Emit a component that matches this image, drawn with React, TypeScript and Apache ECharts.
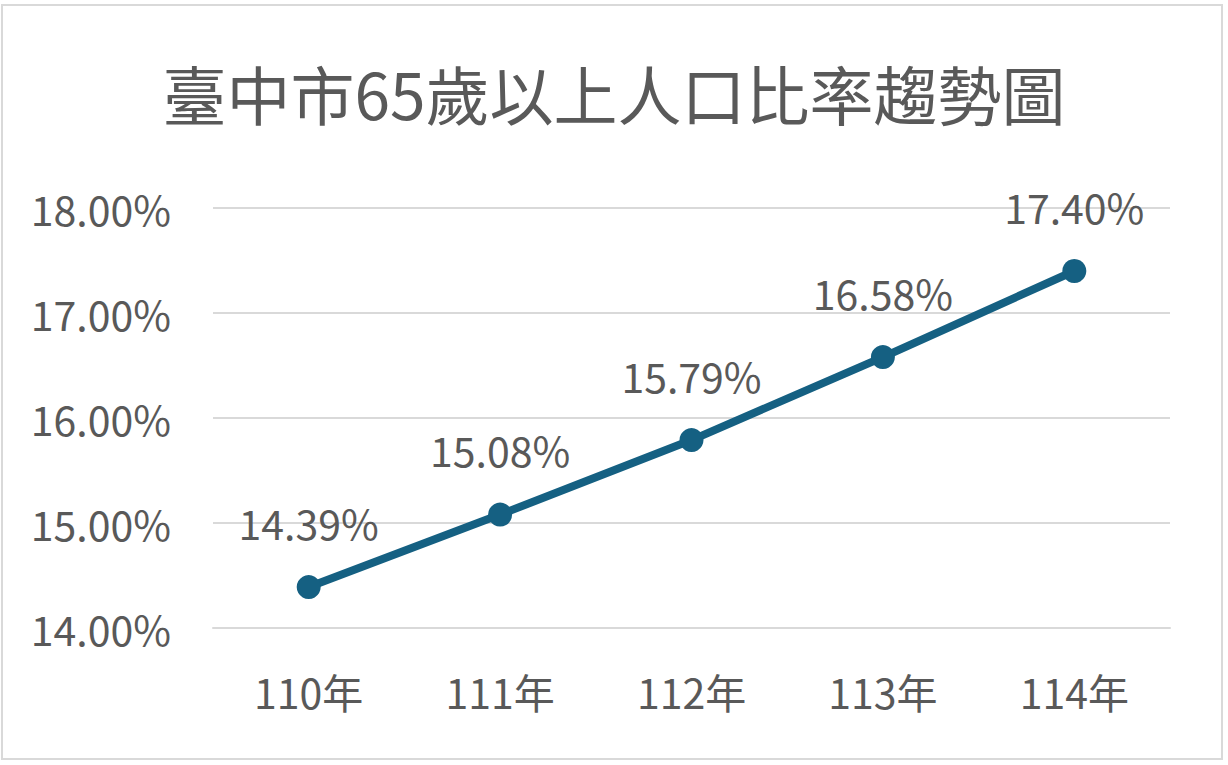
import React, { useEffect, useRef } from 'react';
import * as echarts from 'echarts';

const years = ['110年', '111年', '112年', '113年', '114年'];
const ratios = [14.39, 15.08, 15.79, 16.58, 17.4];
const yTicks = { min: 14, max: 18, step: 1 };

const TEXT = '#595959';
const GRID = '#d9d9d9';
const LINE = '#156082';
const FONT = '"Noto Sans CJK TC", "Noto Sans", sans-serif';

export default function App() {
  const chartRef = useRef<HTMLDivElement | null>(null);

  useEffect(() => {
    if (!chartRef.current) return;
    const chart = echarts.init(chartRef.current, null, { renderer: 'svg' });
    chart.setOption({
      animation: false,
      backgroundColor: '#fff',
      textStyle: { fontFamily: FONT, color: TEXT },
      title: {
        text: '臺中市65歲以上人口比率趨勢圖',
        left: 'center',
        top: 60,
        padding: 0,
        textStyle: { fontSize: 64, fontWeight: 'normal', color: TEXT, fontFamily: FONT },
      },
      grid: { left: 213, right: 58, top: 208, bottom: 137, containLabel: false },
      xAxis: {
        type: 'category',
        data: years,
        boundaryGap: true,
        axisLine: { show: true, lineStyle: { color: GRID, width: 2 } },
        axisTick: { show: false },
        axisLabel: { fontSize: 41, color: TEXT, fontFamily: FONT, margin: 42 },
      },
      yAxis: {
        type: 'value',
        min: yTicks.min,
        max: yTicks.max,
        interval: yTicks.step,
        axisLine: { show: false },
        axisTick: { show: false },
        splitLine: { lineStyle: { color: GRID, width: 2 } },
        axisLabel: {
          fontSize: 41,
          color: TEXT,
          fontFamily: FONT,
          margin: 42,
          formatter: (v: number) => v.toFixed(2) + '%',
        },
      },
      series: [
        {
          type: 'line',
          data: ratios,
          symbol: 'circle',
          symbolSize: 24,
          lineStyle: { color: LINE, width: 8 },
          itemStyle: { color: LINE },
          label: {
            show: true,
            position: 'top',
            distance: 33,
            fontSize: 41,
            color: TEXT,
            fontFamily: FONT,
            formatter: (p: any) => Number(p.value).toFixed(2) + '%',
          },
        },
      ],
    });
    return () => chart.dispose();
  }, []);

  return (
    <div style={{ position: 'fixed', left: 0, top: 0, width: 1228, height: 765, background: '#fff' }}>
      <div ref={chartRef} style={{ position: 'absolute', left: 0, top: 0, width: 1228, height: 765 }} />
      <div
        style={{
          position: 'absolute',
          left: 1,
          top: 4,
          width: 1218,
          height: 752,
          border: '2px solid #d9d9d9',
          pointerEvents: 'none',
        }}
      />
    </div>
  );
}
